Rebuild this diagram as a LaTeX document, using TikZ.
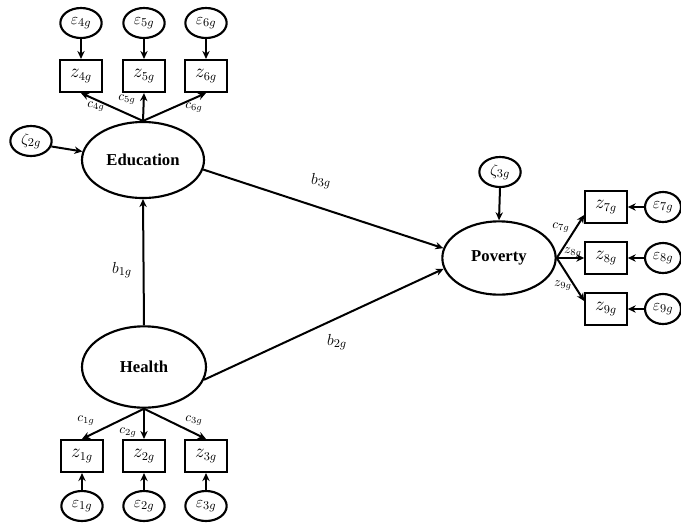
\documentclass[tikz,border=0pt]{standalone}
\usepackage{fontspec}
\setmainfont{Liberation Serif}
\usetikzlibrary{shapes.geometric,arrows.meta}

\tikzset{
    latent/.style={ellipse, draw, line width=1.6pt, inner sep=0pt,
        font=\fontsize{12.5}{14}\selectfont\bfseries},
    errnode/.style={ellipse, draw, line width=1.6pt, inner sep=0pt,
        minimum width=31pt, minimum height=22.5pt, font=\fontsize{13}{15}\selectfont},
    obsbox/.style={rectangle, draw, line width=1.6pt, inner sep=0pt,
        minimum width=31pt, minimum height=24pt, font=\fontsize{13.5}{15}\selectfont},
    path/.style={line width=1.5pt, -{Stealth[length=6pt,width=5.5pt]}},
    coef/.style={font=\fontsize{10}{11}\selectfont, inner sep=0pt},
    coefbig/.style={font=\fontsize{13}{15}\selectfont, inner sep=0pt}
}

\begin{document}
\begin{tikzpicture}[x=0.75pt, y=-0.75pt]
    \useasboundingbox (0,0) rectangle (681,522);

    % latent variables
    \node[latent, minimum width=91.5pt, minimum height=57pt] (edu) at (143,160) {Education};
    \node[latent, minimum width=93pt, minimum height=61pt] (hea) at (144,367) {Health};
    \node[latent, minimum width=85pt, minimum height=55pt] (pov) at (499,258) {Poverty};

    % disturbances
    \node[errnode] (zeta2) at (31,141) {$\zeta_{2g}$};
    \node[errnode] (zeta3) at (500,172) {$\zeta_{3g}$};

    % indicators of education
    \foreach \i/\x in {4/81,5/144,6/206} {
        \node[obsbox] (z\i) at (\x,76) {$z_{\i g}$};
        \node[errnode] (e\i) at (\x,23) {$\varepsilon_{\i g}$};
        \draw[path] (e\i.south) -- (z\i.north);
        \draw[path] (edu.north) -- (z\i.south);
    }

    % indicators of health
    \foreach \i/\x in {1/82,2/144,3/206} {
        \node[obsbox] (z\i) at (\x,456) {$z_{\i g}$};
        \node[errnode] (e\i) at (\x,506) {$\varepsilon_{\i g}$};
        \draw[path] (e\i.north) -- (z\i.south);
        \draw[path] (hea.south) -- (z\i.north);
    }

    % indicators of poverty
    \foreach \i/\y in {7/207,8/258,9/309} {
        \node[obsbox] (z\i) at (606,\y) {$z_{\i g}$};
        \node[errnode, minimum width=27pt] (e\i) at (663,\y) {$\varepsilon_{\i g}$};
        \draw[path] (e\i.west) -- (z\i.east);
    }
    \draw[path] (pov.east) -- (z7.200);
    \draw[path] (pov.east) -- (z8.west);
    \draw[path] (pov.east) -- (z9.160);

    % structural paths
    \draw[path] (zeta2.-15) -- (edu.172);
    \draw[path] (zeta3.south) -- (pov.north);
    \draw[path] (hea.north) -- (edu.south);
    \draw[path] (edu.-9) -- (pov.170);
    \draw[path] (hea.-12) -- (pov.191);

    % coefficients
    \node[coef] (c4) at (96,107) {$c_{4g}$};
    \node[coef] (c5) at (127,100) {$c_{5g}$};
    \node[coef] (c6) at (194,108) {$c_{6g}$};
    \node[coef] (c1) at (86,421) {$c_{1g}$};
    \node[coef] (c2) at (128,433) {$c_{2g}$};
    \node[coef] (c3) at (194,421) {$c_{3g}$};
    \node[coef] (c7) at (561,228) {$c_{7g}$};
    \node[coef] (l8) at (573,253) {$z_{8g}$};
    \node[coef] (l9) at (563,286) {$z_{9g}$};
    \node[coefbig] (b1) at (122,270) {$b_{1g}$};
    \node[coefbig] (b2) at (337,342) {$b_{2g}$};
    \node[coefbig] (b3) at (321,181) {$b_{3g}$};
\end{tikzpicture}
\end{document}
